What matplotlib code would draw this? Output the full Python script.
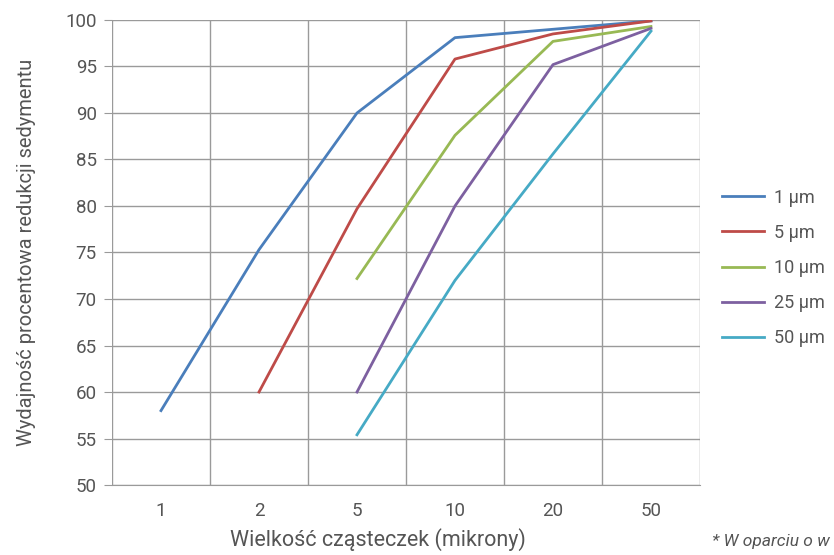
import matplotlib.pyplot as plt

sizes = ["1", "2", "5", "10", "20", "50"]
labels = ["1 µm", "5 µm", "10 µm", "25 µm", "50 µm"]
colors = ["#4a7ebb", "#be4b48", "#98b954", "#7d60a0", "#46aac5"]

# each series starts at a different particle size index
start = [0, 1, 2, 2, 2]
eff_1 = [58.0, 75.3, 90.0, 98.1, 99.0, 99.9]
eff_5 = [60.0, 79.7, 95.8, 98.5, 99.9]
eff_10 = [72.2, 87.6, 97.7, 99.3]
eff_25 = [60.0, 80.0, 95.2, 99.1]
eff_50 = [55.4, 72.0, 85.6, 98.8]
series = [eff_1, eff_5, eff_10, eff_25, eff_50]

plt.rcParams['font.family'] = ['Roboto', 'DejaVu Sans']
txt = '#555555'

fig = plt.figure(figsize=(8.34, 5.55), dpi=100)
ax = fig.add_axes([0.1343, 0.1261, 0.7050, 0.8379])

for s0, vals, lab, c in zip(start, series, labels, colors):
    xs = list(range(s0, s0 + len(vals)))
    ax.plot(xs, vals, color=c, lw=2, label=lab)

ax.set_xlim(-0.5, 5.5)
ax.set_ylim(50, 100)
ax.set_xticks(range(len(sizes)))
ax.set_xticklabels(sizes)
ax.set_xticks([i + 0.5 for i in range(-1, 6)], minor=True)
ax.set_yticks(range(50, 101, 5))

ax.grid(True, which='minor', axis='x', color='#9a9a9a', lw=1)
ax.grid(True, which='major', axis='y', color='#9a9a9a', lw=1)
ax.set_axisbelow(True)
for sp in ax.spines.values():
    sp.set_visible(False)
ax.spines['bottom'].set_visible(True)
ax.spines['bottom'].set_color('#9a9a9a')

ax.tick_params(axis='x', which='both', length=0, pad=12, labelsize=13.5, labelcolor=txt)
ax.tick_params(axis='y', length=6, color='#9a9a9a', pad=5, labelsize=13.5, labelcolor=txt)

ax.set_xlabel('Wielkość cząsteczek (mikrony)', fontsize=15.5, color=txt)
ax.xaxis.set_label_coords(0.452, -0.092)
ax.set_ylabel('Wydajność procentowa redukcji sedymentu', fontsize=14.5, color=txt, labelpad=21)

ax.legend(loc='center left', bbox_to_anchor=(1.01, 0.467), frameon=False,
          fontsize=13, labelcolor=txt, handlelength=2.3, handletextpad=0.6,
          labelspacing=0.95)

fig.text(0.854, 0.016, '* W oparciu o w', fontsize=12.5, style='italic', color=txt)

fig.savefig('out.png', dpi=100)
